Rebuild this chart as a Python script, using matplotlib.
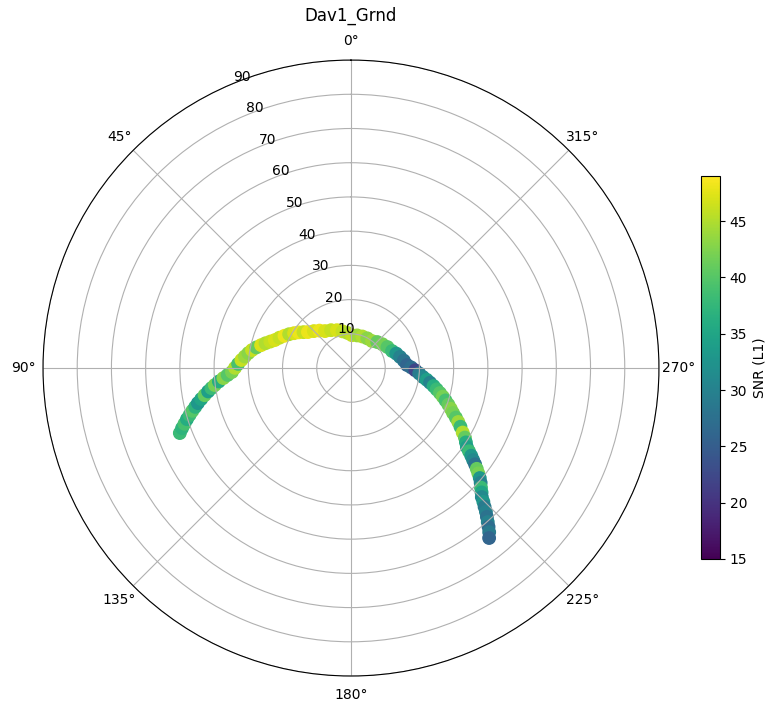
import numpy as np
import matplotlib
matplotlib.use("Agg")
import matplotlib.pyplot as plt

# Satellite track: azimuth (deg), zenith angle (deg) and SNR
azimuth = [110.8, 109.6, 108.5, 107.3, 106.2, 105.1, 104.0,
           102.9, 101.7, 100.5, 99.3, 98.2,
           97.1, 95.8, 94.5, 93.2,
           91.9, 89.9, 87.9, 85.8, 83.8, 81.7,
           79.7, 77.7, 75.7, 73.8, 71.8,
           69.8, 67.0, 64.1, 61.3, 58.5, 55.7, 52.9,
           50.1, 45.1, 40.1,
           35.1, 27.7, 20.4, 13.0, 5.6,
           358.3, 349.3, 340.2, 331.2,
           322.1, 314.7, 307.3, 299.9,
           292.5, 287.7, 282.8, 278.0,
           273.1, 270.6, 268.0, 265.5,
           262.9, 261.2, 259.5, 257.7, 256.0,
           254.3, 252.7, 251.1, 249.4, 247.8,
           246.2, 244.7, 243.3, 241.8, 240.0, 238.6, 237.1,
           235.7, 234.8, 233.9, 233.0, 232.2, 231.3, 230.4,
           229.5, 228.5, 227.4, 226.4,
           225.4, 224.7, 223.9, 223.2,
           222.4, 221.6, 220.9, 220.1, 219.1]

zenith = [53.5, 52.4, 51.3, 50.2, 49.1, 48.0, 46.9,
          45.9, 44.7, 43.5, 42.3, 41.2,
          40.1, 38.8, 37.4, 36.1,
          34.8, 33.9, 33.0, 32.1, 31.2, 30.3,
          29.4, 28.3, 27.1, 26.0, 24.8,
          23.7, 22.7, 21.6, 20.6, 19.5, 18.5, 17.4,
          16.4, 15.3, 14.3,
          13.2, 12.5, 11.8, 11.0, 10.3,
          9.6, 9.7, 9.8, 9.9,
          10.0, 10.8, 11.5, 12.3,
          13.0, 13.9, 14.7, 15.6,
          16.4, 17.6, 18.8, 20.0,
          21.2, 22.4, 23.5, 24.7, 25.8,
          27.0, 28.1, 29.2, 30.4, 31.5,
          32.6, 33.9, 35.1, 36.3, 37.7, 39.0, 40.0,
          41.0, 42.2, 43.5, 44.7, 45.9, 47.1, 48.3,
          49.5, 50.6, 51.6, 52.7,
          53.7, 55.0, 56.3, 57.6,
          58.9, 60.2, 61.4, 62.7, 64.0]

snr = [38, 37, 39, 36, 38, 40, 37,
       33, 35, 41, 34, 38,
       42, 36, 43, 40,
       42, 45, 39, 46, 44, 43,
       46, 41, 47, 45, 46,
       47, 46, 48, 45, 47, 48, 46,
       48, 47, 48,
       47, 46, 47, 46, 45,
       46, 44, 45, 43,
       44, 41, 42, 40,
       38, 33, 30, 28,
       26, 27, 22, 29,
       31, 34, 30, 36, 38,
       40, 42, 39, 41, 43,
       42, 40, 44, 38, 45, 41, 36,
       34, 38, 33, 31, 28, 41, 42,
       33, 30, 38, 35,
       31, 33, 29, 30,
       28, 30, 27, 29, 26]

fig = plt.figure(figsize=(7.76, 7.15), dpi=100)
ax = fig.add_axes([0.0554, 0.0545, 0.7938, 0.8615], projection="polar")
ax.set_theta_zero_location("N")
ax.set_theta_direction(1)

sc = ax.scatter(np.deg2rad(azimuth), zenith, c=snr, cmap="viridis",
                vmin=15, vmax=49, s=80)
ax.set_ylim(0, 90)
ax.set_yticks(range(10, 91, 10))
ax.set_title("Dav1_Grnd", pad=9)

cax = fig.add_axes([0.9034, 0.2182, 0.0245, 0.5357])
cb = fig.colorbar(sc, cax=cax)
cb.set_label("SNR (L1)")

fig.savefig("out.png", dpi=100)
